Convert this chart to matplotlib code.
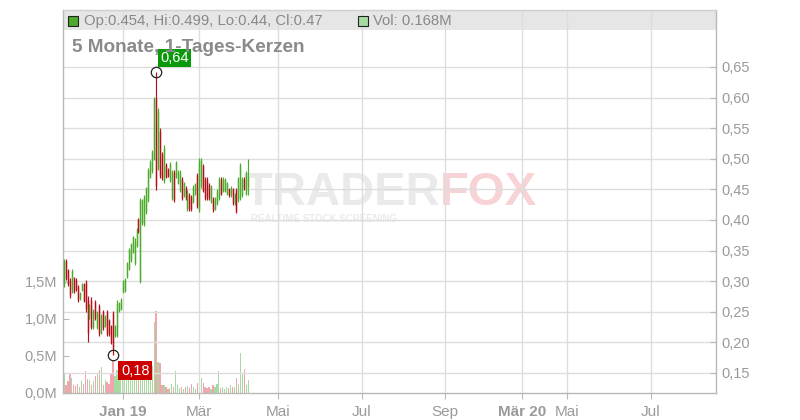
import matplotlib
matplotlib.use('Agg')
import matplotlib.pyplot as plt
from matplotlib.patches import Rectangle
import numpy as np

plt.rcParams['font.family'] = ['Liberation Sans', 'DejaVu Sans']

# ---------------- data ----------------
opens = [0.295, 0.333, 0.318, 0.300, 0.285, 0.305, 0.302, 0.290, 0.272, 0.286,
         0.295, 0.298, 0.270, 0.240, 0.270, 0.225, 0.266, 0.225, 0.260, 0.216,
         0.250, 0.227, 0.250, 0.236, 0.226, 0.248, 0.211, 0.212, 0.252, 0.255,
         0.282, 0.285, 0.307, 0.320, 0.334, 0.348, 0.330, 0.358, 0.401, 0.300,
         0.395, 0.393, 0.413, 0.432, 0.471, 0.480, 0.500, 0.600, 0.485, 0.546,
         0.508, 0.463, 0.490, 0.483, 0.465, 0.436, 0.478, 0.471, 0.461, 0.449,
         0.467, 0.440, 0.452, 0.418, 0.441, 0.437, 0.430, 0.442, 0.474, 0.416,
         0.455, 0.488, 0.467, 0.466, 0.457, 0.430, 0.435, 0.418, 0.427, 0.436,
         0.467, 0.448, 0.448, 0.443, 0.450, 0.440, 0.450, 0.427, 0.449, 0.432,
         0.436, 0.440, 0.467, 0.443, 0.454]
highs = [0.337, 0.337, 0.320, 0.305, 0.320, 0.307, 0.305, 0.293, 0.283, 0.297,
         0.297, 0.302, 0.275, 0.263, 0.274, 0.255, 0.270, 0.251, 0.263, 0.247,
         0.253, 0.245, 0.253, 0.238, 0.228, 0.251, 0.228, 0.269, 0.266, 0.272,
         0.302, 0.305, 0.332, 0.354, 0.362, 0.374, 0.370, 0.387, 0.403, 0.436,
         0.435, 0.440, 0.454, 0.485, 0.498, 0.514, 0.601, 0.642, 0.583, 0.550,
         0.511, 0.522, 0.493, 0.485, 0.495, 0.481, 0.481, 0.496, 0.481, 0.481,
         0.470, 0.462, 0.455, 0.449, 0.444, 0.440, 0.457, 0.460, 0.477, 0.501,
         0.501, 0.491, 0.470, 0.470, 0.460, 0.457, 0.438, 0.438, 0.450, 0.470,
         0.470, 0.470, 0.468, 0.462, 0.452, 0.455, 0.452, 0.444, 0.452, 0.470,
         0.493, 0.470, 0.470, 0.480, 0.499]
lows = [0.290, 0.302, 0.292, 0.273, 0.281, 0.280, 0.284, 0.266, 0.270, 0.284,
        0.266, 0.250, 0.201, 0.238, 0.222, 0.222, 0.237, 0.222, 0.211, 0.213,
        0.221, 0.225, 0.211, 0.211, 0.198, 0.179, 0.209, 0.209, 0.250, 0.253,
        0.280, 0.283, 0.305, 0.318, 0.332, 0.346, 0.326, 0.356, 0.378, 0.297,
        0.392, 0.390, 0.410, 0.429, 0.469, 0.477, 0.498, 0.449, 0.482, 0.469,
        0.465, 0.460, 0.469, 0.470, 0.462, 0.433, 0.429, 0.469, 0.459, 0.446,
        0.433, 0.438, 0.433, 0.415, 0.415, 0.415, 0.428, 0.440, 0.420, 0.413,
        0.452, 0.446, 0.433, 0.433, 0.433, 0.428, 0.413, 0.416, 0.425, 0.433,
        0.440, 0.446, 0.446, 0.441, 0.438, 0.438, 0.425, 0.425, 0.411, 0.429,
        0.433, 0.438, 0.449, 0.440, 0.440]
closes = [0.333, 0.305, 0.295, 0.278, 0.316, 0.283, 0.287, 0.270, 0.281, 0.295,
          0.268, 0.255, 0.215, 0.260, 0.225, 0.252, 0.240, 0.248, 0.215, 0.244,
          0.224, 0.243, 0.214, 0.214, 0.201, 0.190, 0.226, 0.265, 0.264, 0.270,
          0.300, 0.303, 0.330, 0.351, 0.360, 0.372, 0.366, 0.385, 0.380, 0.432,
          0.432, 0.437, 0.451, 0.482, 0.495, 0.511, 0.597, 0.455, 0.578, 0.472,
          0.468, 0.518, 0.471, 0.472, 0.492, 0.478, 0.432, 0.494, 0.479, 0.478,
          0.436, 0.460, 0.436, 0.446, 0.418, 0.418, 0.454, 0.458, 0.423, 0.497,
          0.498, 0.449, 0.436, 0.436, 0.436, 0.454, 0.416, 0.436, 0.447, 0.467,
          0.443, 0.467, 0.465, 0.460, 0.440, 0.452, 0.428, 0.442, 0.414, 0.467,
          0.490, 0.467, 0.452, 0.477, 0.470]
volumes_m = [0.25, 0.10, 0.15, 0.27, 0.20, 0.10, 0.09, 0.12, 0.08, 0.15,
             0.12, 0.29, 0.18, 0.17, 0.10, 0.16, 0.22, 0.25, 0.30, 0.35,
             0.10, 0.17, 0.14, 0.12, 0.27, 0.44, 0.22, 0.30, 0.28, 0.30,
             0.32, 0.30, 0.28, 0.33, 0.30, 0.35, 0.29, 0.31, 0.27, 0.33,
             0.30, 0.32, 0.28, 0.34, 0.30, 0.36, 0.95, 1.10, 0.41, 0.40,
             0.10, 0.10, 0.08, 0.05, 0.06, 0.12, 0.08, 0.29, 0.10, 0.06,
             0.08, 0.05, 0.07, 0.09, 0.06, 0.11, 0.08, 0.05, 0.13, 1.15,
             0.20, 0.13, 0.07, 0.06, 0.08, 0.05, 0.10, 0.07, 0.12, 0.29,
             0.06, 0.08, 0.05, 0.07, 0.06, 0.10, 0.08, 0.07, 0.20, 0.12,
             0.53, 0.25, 0.32, 0.10, 0.17]

price_ticks = [0.15, 0.20, 0.25, 0.30, 0.35, 0.40, 0.45, 0.50, 0.55, 0.60, 0.65]
price_tick_labels = ['0,15', '0,20', '0,25', '0,30', '0,35', '0,40', '0,45',
                     '0,50', '0,55', '0,60', '0,65']
vol_ticks = [0.0, 0.5, 1.0, 1.5]
vol_tick_labels = ['0,0M', '0,5M', '1,0M', '1,5M']
date_tick_pos = [29.9, 68.9, 109.2, 152.0, 194.4, 233.9, 256.6, 299.3]
date_tick_labels = ['Jan 19', 'Mär', 'Mai', 'Jul', 'Sep', 'Mär 20', 'Mai', 'Jul']
date_tick_bold = [True, False, False, False, False, True, False, False]

title_text = '5 Monate, 1-Tages-Kerzen'
legend_ohlc = 'Op:0.454, Hi:0.499, Lo:0.44, Cl:0.47'
legend_vol = 'Vol: 0.168M'
high_label = '0,64'
low_label = '0,18'
watermark_a = 'TRADER'
watermark_b = 'FOX'
watermark_sub = 'REALTIME STOCK SCREENING'

# ---------------- styling ----------------
UP = '#4cab2c'
DOWN = '#b3121a'
VUP = '#a6dba0'
VDOWN = '#f2a5b0'
GRID = '#dddddd'
SPINE = '#b8b8b8'
TXT = '#9a9a9a'

W, H = 800, 420
fig = plt.figure(figsize=(W / 100, H / 100), dpi=100)
fig.patch.set_facecolor('white')

ax_l, ax_r, ax_b, ax_t = 63, 716, 392.5, 10
axp = fig.add_axes([ax_l / W, 1 - ax_b / H, (ax_r - ax_l) / W, (ax_b - ax_t) / H])
axv = axp.twinx()
axp.yaxis.tick_right()
axv.yaxis.tick_left()
axv.set_zorder(0)
axp.set_zorder(1)
axp.patch.set_visible(False)

n = len(closes)
x = np.arange(n)
o = np.array(opens); h = np.array(highs); lo = np.array(lows); c = np.array(closes)
up = c >= o
cols = [UP if u else DOWN for u in up]
vcols = [VUP if u else VDOWN for u in up]

# volume
axv.bar(x, volumes_m, width=0.65, color=vcols, linewidth=0)
axv.set_ylim(0, (ax_b - ax_t) / 74.0)
axv.set_yticks(vol_ticks, vol_tick_labels)
for s in axv.spines.values():
    s.set_visible(False)
axv.tick_params(axis='y', direction='in', length=4, pad=4, labelsize=10.5,
                labelcolor=TXT, color=SPINE, left=True, right=False,
                labelleft=True, labelright=False)

# candles
axp.vlines(x, lo, h, colors=cols, linewidth=0.85, zorder=3)
axp.vlines(x, np.minimum(o, c), np.maximum(o, c), colors=cols, linewidth=1.0, zorder=3)

axp.set_xlim(-0.51, 332.65)
axp.set_ylim(0.1181, 0.7431)
axp.set_yticks(price_ticks, price_tick_labels)
axp.set_xticks(date_tick_pos, date_tick_labels)
for lbl, b in zip(axp.get_xticklabels(), date_tick_bold):
    lbl.set_fontweight('bold' if b else 'normal')
axp.set_axisbelow(True)
axp.grid(True, color=GRID, linewidth=1.0)
axp.tick_params(axis='y', direction='in', length=4, pad=4, labelsize=10.5,
                labelcolor=TXT, color=SPINE, right=True, left=False,
                labelright=True, labelleft=False)
axp.tick_params(axis='x', direction='out', length=4, pad=5, labelsize=11,
                labelcolor=TXT, color=SPINE)
for name, s in axp.spines.items():
    s.set_color(SPINE)
    s.set_linewidth(1.0)
axp.spines['top'].set_color('#d0d0d0')

# legend band
band_frac = 20 / (ax_b - ax_t)
axp.add_patch(Rectangle((0, 1 - band_frac), 1, band_frac, transform=axp.transAxes,
                        facecolor='#e6e6e6', edgecolor='none', zorder=0.1))

# watermark
axp.text(440 / W, 1 - 193 / H, watermark_a, transform=fig.transFigure, ha='right',
         va='center', fontsize=34, fontweight='bold', color='#eaeaea', zorder=0.3)
axp.text(440 / W, 1 - 193 / H, watermark_b, transform=fig.transFigure, ha='left',
         va='center', fontsize=34, fontweight='bold', color='#f7d3d6', zorder=0.3)
axp.text(251 / W, 1 - 219 / H, watermark_sub, transform=fig.transFigure, ha='left',
         va='center', fontsize=7.0, fontweight='bold', color='#ebebeb', zorder=0.3)

# extreme markers
imax = int(np.argmax(h)); imin = int(np.argmin(lo))
axp.plot([imax], [h[imax]], 'o', mfc='none', mec='#222222', ms=7.5, mew=0.9, zorder=5)
axp.plot([imin], [lo[imin]], 'o', mfc='none', mec='#222222', ms=7.5, mew=0.9, zorder=5)
axp.annotate(high_label, (imax, h[imax]), xytext=(13, 10), textcoords='offset points',
             ha='center', va='center', fontsize=10.5, color='white', zorder=6,
             bbox=dict(boxstyle='square,pad=0.15', fc='#0a990a', ec='none'))
axp.annotate(low_label, (imin, lo[imin]), xytext=(16, -11), textcoords='offset points',
             ha='center', va='center', fontsize=10.5, color='white', zorder=6,
             bbox=dict(boxstyle='square,pad=0.2', fc='#cc0000', ec='none'))

# header legend
fig.add_artist(Rectangle((68 / W, 1 - 26 / H), 10 / W, 10 / H, transform=fig.transFigure,
                         facecolor=UP, edgecolor='#222222', linewidth=0.8, zorder=10))
fig.text(84 / W, 1 - 21 / H, legend_ohlc, ha='left', va='center', fontsize=10.7,
         color='#888888', zorder=10)
fig.add_artist(Rectangle((357.5 / W, 1 - 26 / H), 10 / W, 10 / H, transform=fig.transFigure,
                         facecolor=VUP, edgecolor='#222222', linewidth=0.8, zorder=10))
fig.text(373 / W, 1 - 21 / H, legend_vol, ha='left', va='center', fontsize=10.7,
         color='#888888', zorder=10)

# title
fig.text(72 / W, 1 - 47 / H, title_text, ha='left', va='center', fontsize=13.7,
         fontweight='bold', color='#8a8a8a', zorder=10)

fig.savefig('out.png', dpi=100)
